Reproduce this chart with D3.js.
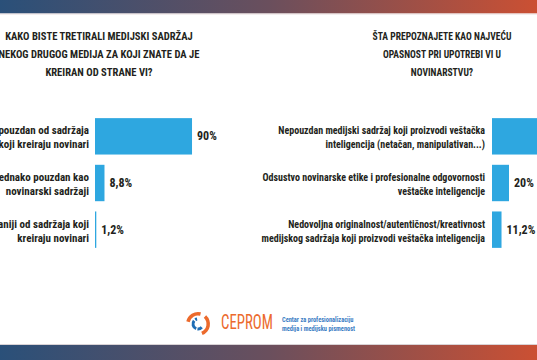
<!DOCTYPE html>
<html><head><meta charset="utf-8">
<script src="https://cdn.jsdelivr.net/npm/d3@7/dist/d3.min.js"></script>
<style>
html,body{margin:0;padding:0;background:#fff;overflow:hidden}
svg{display:block}
text{font-family:Roboto,'Open Sans',sans-serif;font-stretch:condensed}
</style></head>
<body>
<svg id="chart" width="537" height="360"></svg>
<script>
// ---- data ----
const leftTitle = ["KAKO BISTE TRETIRALI MEDIJSKI SADRŽAJ", "NEKOG DRUGOG MEDIJA ZA KOJI ZNATE DA JE", "KREIRAN OD STRANE VI?"];
const leftCategories = [
  ["Manje pouzdan od sadržaja", "koji kreiraju novinari"],
  ["Podjednako pouzdan kao", "novinarski sadržaji"],
  ["Pouzdaniji od sadržaja koji", "kreiraju novinari"]
];
const leftValues = [90, 8.8, 1.2];
const leftLabels = ["90%", "8,8%", "1,2%"];

const rightTitle = ["ŠTA PREPOZNAJETE KAO NAJVEĆU", "OPASNOST PRI UPOTREBI VI U", "NOVINARSTVU?"];
const rightCategories = [
  ["Nepouzdan medijski sadržaj koji proizvodi veštačka", "inteligencija (netačan, manipulativan...)"],
  ["Odsustvo novinarske etike i profesionalne odgovornosti", "veštačke inteligencije"],
  ["Nedovoljna originalnost/autentičnost/kreativnost", "medijskog sadržaja koji proizvodi veštačka inteligencija"]
];
const rightValues = [68.8, 20, 11.2];
const rightLabels = ["68,8%", "20%", "11,2%"];

const logoName = "CEPROM";
const logoSub = ["Centar za profesionalizaciju", "medija i medijsku pismenost"];

// ---- style ----
const W = 537, H = 360;
const barColor = "#2ea7e0";
const textColor = "#231f20";

const svg = d3.select("#chart");
const defs = svg.append("defs");
const grad = defs.append("linearGradient").attr("id", "band").attr("x1", "0").attr("x2", "1").attr("y1", "0").attr("y2", "0");
grad.append("stop").attr("offset", "0%").attr("stop-color", "#2a5079");
grad.append("stop").attr("offset", "50%").attr("stop-color", "#6a4f5d");
grad.append("stop").attr("offset", "100%").attr("stop-color", "#cb5033");

svg.append("rect").attr("x", 0).attr("y", 0).attr("width", W).attr("height", 13.5).attr("fill", "url(#band)");
svg.append("rect").attr("x", 0).attr("y", 13.5).attr("width", W).attr("height", 1).attr("fill", "#e9dede");
svg.append("rect").attr("x", 0).attr("y", 344).attr("width", W).attr("height", 1).attr("fill", "#d9d3d6");
svg.append("rect").attr("x", 0).attr("y", 345).attr("width", W).attr("height", 15).attr("fill", "url(#band)");

function drawTitle(lines, cx, sx) {
  const g = svg.append("g").attr("transform", `translate(${cx},0) scale(${sx},1)`);
  g.selectAll("text").data(lines).join("text")
    .attr("x", 0).attr("y", (d, i) => 40 + i * 18)
    .attr("text-anchor", "middle")
    .attr("font-weight", "bold")
    .attr("font-size", 11.4).attr("fill", textColor)
    .text(d => d);
}
drawTitle(leftTitle, 99, 0.93);
drawTitle(rightTitle, 442, 0.84);

function drawChart(cats, vals, labels, x0, pxPerPct, labelRight, sx) {
  const x = d3.scaleLinear().domain([0, 100]).range([x0, x0 + 100 * pxPerPct]);
  const y = d3.scaleBand().domain(d3.range(cats.length)).range([113, 253]).paddingInner(0.22).paddingOuter(0.11);
  const g = svg.append("g");
  g.selectAll("rect.bar").data(vals).join("rect").attr("class", "bar")
    .attr("x", x(0)).attr("y", (d, i) => y(i))
    .attr("width", d => Math.max(1, x(d) - x(0)))
    .attr("height", y.bandwidth())
    .attr("fill", barColor);
  g.selectAll("text.val").data(vals).join("text").attr("class", "val")
    .attr("x", d => x(d) + 5).attr("y", (d, i) => y(i) + y.bandwidth() / 2 + 4)
    .attr("font-weight", "bold").style("font-stretch", "semi-condensed")
    .attr("font-size", 12).attr("fill", textColor)
    .text((d, i) => labels[i]);
  cats.forEach((lines, i) => {
    const cy = y(i) + y.bandwidth() / 2;
    const tg = g.append("g").attr("transform", `translate(${labelRight},${cy}) scale(${sx},1)`);
    tg.selectAll("text").data(lines).join("text")
      .attr("x", 0).attr("y", (d, j) => (j - (lines.length - 1) / 2) * 14 + 5)
      .attr("text-anchor", "end")
      .attr("font-weight", "bold")
      .attr("font-size", 11).attr("fill", textColor)
      .text(d => d);
  });
}
drawChart(leftCategories, leftValues, leftLabels, 95, 1.078, 89, 1.0);
drawChart(rightCategories, rightValues, rightLabels, 492, 0.85, 485, 0.91);

// ---- logo ----
const logo = svg.append("g").attr("transform", "translate(198,324)");
const arc = d3.arc();
const orange = "#ec6a2c", blue = "#1f6db5";
[[-1.35, 0.25], [0.75, 2.75]].forEach(a => {
  logo.append("path").attr("d", arc({innerRadius: 8.5, outerRadius: 12, startAngle: a[0], endAngle: a[1]})).attr("fill", orange);
});
[[3.5, 5.4], [2.3, 3.25], [5.7, 6.1]].forEach(a => {
  logo.append("path").attr("d", arc({innerRadius: 3.5, outerRadius: 6.5, startAngle: a[0], endAngle: a[1]})).attr("fill", blue);
});
svg.append("g").attr("transform", "translate(221,329) scale(0.76,1)")
  .append("text").attr("x", 0).attr("y", 0)
  .attr("font-size", 19.5).attr("fill", orange)
  .text(logoName);
const sub = svg.append("g").attr("transform", "translate(282,0) scale(0.82,1)");
sub.selectAll("text").data(logoSub).join("text")
  .attr("x", 0).attr("y", (d, i) => 322 + i * 9.5)
  .attr("font-weight", "bold").attr("font-size", 7.8)
  .attr("fill", "#3b7dc4")
  .text(d => d);
</script>
</body></html>
